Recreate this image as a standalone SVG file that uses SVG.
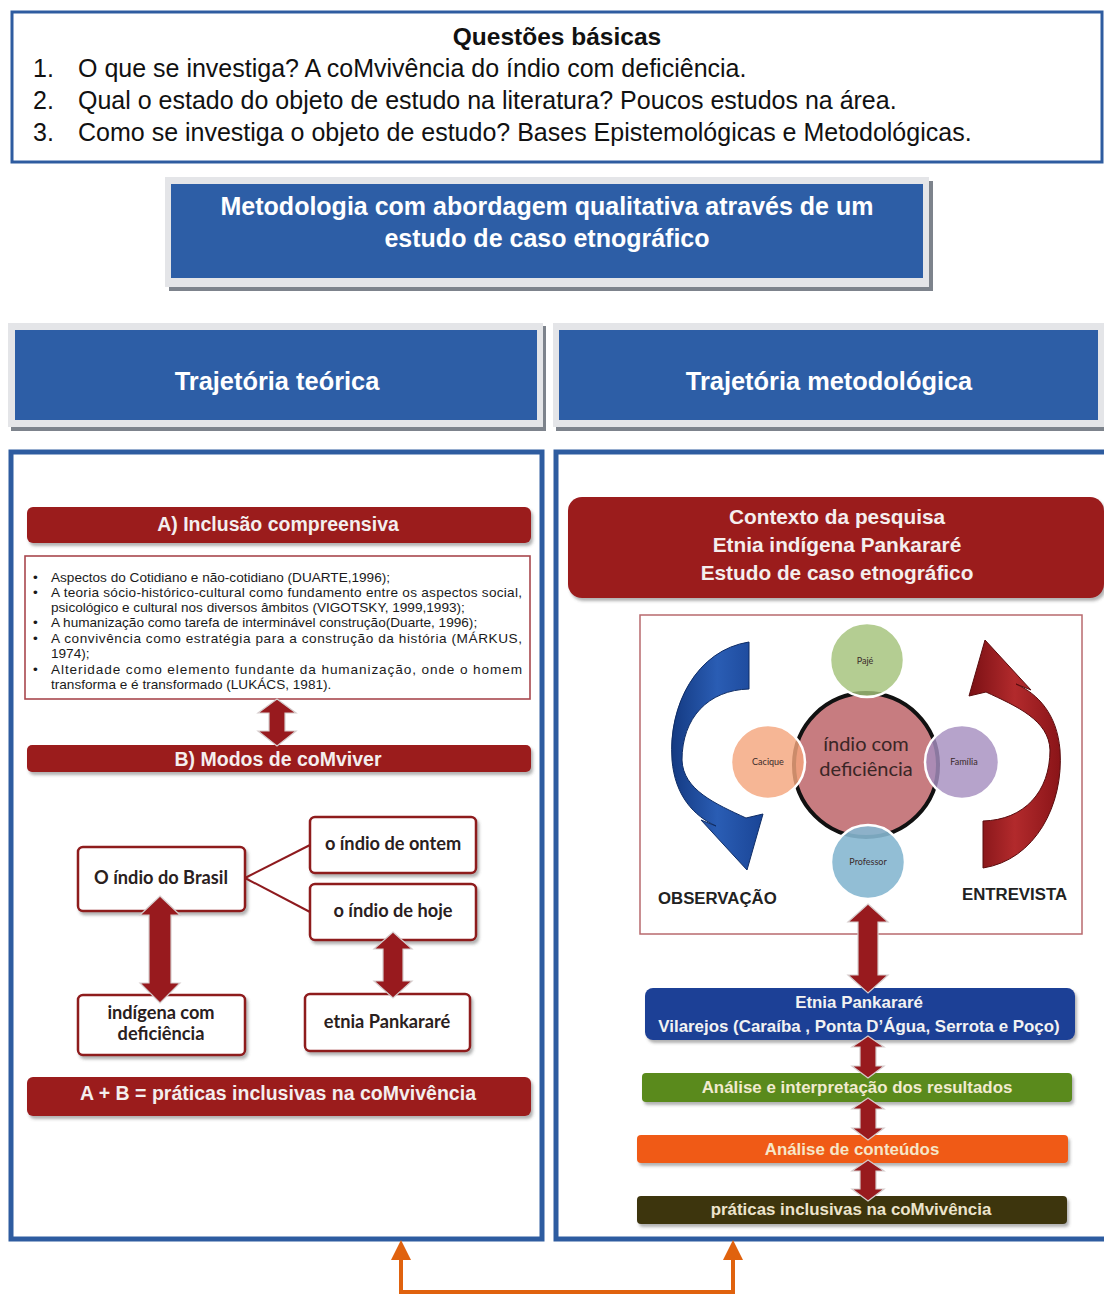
<svg xmlns="http://www.w3.org/2000/svg" width="1104" height="1296" viewBox="0 0 1104 1296">
  <defs>
    <style>
      .sans { font-family: "Liberation Sans", Arial, sans-serif; }
      .cal { font-family: "Lato", "Open Sans", sans-serif; }
      .q { font-size: 25px; fill: #111; }
      .hdr { font-size: 25.4px; font-weight: bold; fill: #fff; }
      .bar { fill: #9b1b1f; }
      .bartxt { font-size: 19.5px; font-weight: bold; fill: #f4eeee; }
      .ctx { font-size: 20.8px; font-weight: bold; fill: #f4eeee; }
      .bul { font-size: 13.6px; fill: #1a1a1a; }
      .rbox { fill: #fff; stroke: #8e1a1e; stroke-width: 2.5; }
      .rtxt { font-size: 18.2px; font-weight: bold; fill: #2a2020; }
      .darr { fill: #981a1e; stroke: #d6cccc; stroke-width: 1.2; }
      .step { font-size: 16.9px; font-weight: bold; }
      .small { font-size: 9px; fill: #3a2a2a; }
    </style>
    <filter id="sh" x="-5%" y="-20%" width="110%" height="150%">
      <feDropShadow dx="2" dy="3" stdDeviation="1.5" flood-color="#555" flood-opacity="0.45"/>
    </filter>
    <linearGradient id="blueArc" x1="0" y1="0" x2="1" y2="0">
      <stop offset="0" stop-color="#143a82"/>
      <stop offset="0.5" stop-color="#2a5db4"/>
      <stop offset="1" stop-color="#1a4596"/>
    </linearGradient>
    <linearGradient id="redArc" x1="0" y1="0" x2="1" y2="0">
      <stop offset="0" stop-color="#8a1418"/>
      <stop offset="0.5" stop-color="#b22a2c"/>
      <stop offset="1" stop-color="#7a1014"/>
    </linearGradient>
    <!-- twisted circular arrow, drawn once and rotated for the right side -->
    <path id="loopArrow" d="M 749 642 C 697 650 668 705 672 760 C 675 796 694 816 716 826 L 701 820 L 747 870 L 763 814 L 746 818 C 716 804 683 790 682 760 C 682 718 708 690 749 689 Z"/>
    <marker id="orangeHead" viewBox="0 0 10 10" refX="5" refY="5" markerWidth="5" markerHeight="5" orient="auto-start-reverse">
      <path d="M0,0 L10,5 L0,10 Z" fill="#e0620e"/>
    </marker>
  </defs>

  <rect width="1104" height="1296" fill="#fff"/>

  <!-- basic questions -->
  <g id="questoes">
    <rect x="12" y="12" width="1090" height="150" fill="#fff" stroke="#2e5ca0" stroke-width="3"/>
    <text class="sans" x="557" y="45" text-anchor="middle" font-size="24.5" font-weight="bold" fill="#111">Questões básicas</text>
    <text class="sans q" x="33" y="77">1.</text>
    <text class="sans q" x="78" y="77">O que se investiga? A coMvivência do índio com deficiência.</text>
    <text class="sans q" x="33" y="109">2.</text>
    <text class="sans q" x="78" y="109">Qual o estado do objeto de estudo na literatura? Poucos estudos na área.</text>
    <text class="sans q" x="33" y="141">3.</text>
    <text class="sans q" x="78" y="141">Como se investiga o objeto de estudo? Bases Epistemológicas e Metodológicas.</text>
  </g>

  <!-- methodology banner -->
  <g id="metodologia">
    <rect x="169" y="181" width="764" height="110" fill="#7d838c"/>
    <rect x="165" y="177" width="764" height="110" fill="#e4e5e8"/>
    <rect x="171" y="184" width="752" height="94" fill="#2d5ea6"/>
    <text class="sans" x="547" y="215" text-anchor="middle" font-size="25" font-weight="bold" fill="#fff">Metodologia com abordagem qualitativa através de um</text>
    <text class="sans" x="547" y="247" text-anchor="middle" font-size="25" font-weight="bold" fill="#fff">estudo de caso etnográfico</text>
  </g>

  <!-- column headers -->
  <g id="traj-teorica">
    <rect x="11" y="326" width="535" height="105" fill="#7d838c"/>
    <rect x="8" y="323" width="535" height="104" fill="#e4e5e8"/>
    <rect x="15" y="330" width="522" height="90" fill="#2d5ea6"/>
    <text class="sans hdr" x="277" y="390" text-anchor="middle">Trajetória teórica</text>
  </g>
  <g id="traj-metodologica">
    <rect x="556" y="326" width="552" height="105" fill="#7d838c"/>
    <rect x="553" y="323" width="552" height="104" fill="#e4e5e8"/>
    <rect x="559" y="330" width="539" height="90" fill="#2d5ea6"/>
    <text class="sans hdr" x="829" y="390" text-anchor="middle">Trajetória metodológica</text>
  </g>

  <!-- column frames -->
  <g id="painel-teorico">
    <rect x="11" y="452" width="531" height="787" fill="#fff" stroke="#2e5ca0" stroke-width="5"/>
  </g>
  <g id="painel-metodologico">
    <rect x="556" y="452" width="560" height="787" fill="#fff" stroke="#2e5ca0" stroke-width="5"/>
  </g>

  <!-- left column -->
  <g id="inclusao">
    <rect class="bar" x="27" y="507" width="504" height="36" rx="6" filter="url(#sh)"/>
    <text class="sans bartxt" x="278" y="531" text-anchor="middle">A) Inclusão compreensiva</text>
  </g>

  <g id="referencias">
    <rect x="25" y="556" width="505" height="143" fill="#fff" stroke="#a8484e" stroke-width="1.6"/>
    <g class="sans bul">
      <text x="33" y="582">•</text>
      <text x="51" y="582">Aspectos do Cotidiano e não-cotidiano (DUARTE,1996);</text>
      <text x="33" y="597">•</text>
      <text x="51" y="597" textLength="471" lengthAdjust="spacing">A teoria sócio-histórico-cultural como fundamento entre os aspectos social,</text>
      <text x="51" y="612">psicológico e cultural nos diversos âmbitos (VIGOTSKY, 1999,1993);</text>
      <text x="33" y="627">•</text>
      <text x="51" y="627">A humanização como tarefa de interminável construção(Duarte, 1996);</text>
      <text x="33" y="643">•</text>
      <text x="51" y="643" textLength="471" lengthAdjust="spacing">A convivência como estratégia para a construção da história (MÁRKUS,</text>
      <text x="51" y="658">1974);</text>
      <text x="33" y="674">•</text>
      <text x="51" y="674" textLength="471" lengthAdjust="spacing">Alteridade como elemento fundante da humanização, onde o homem</text>
      <text x="51" y="689">transforma e é transformado (LUKÁCS, 1981).</text>
    </g>
  </g>

  <g id="modos">
    <rect class="bar" x="27" y="745" width="504" height="27" rx="5" filter="url(#sh)"/>
    <text class="sans bartxt" x="278" y="766" text-anchor="middle">B) Modos de coMviver</text>
  </g>

  <g id="indio-brasil">
    <rect class="rbox" x="78" y="847" width="167" height="64" rx="5" filter="url(#sh)"/>
    <text class="cal rtxt" x="161" y="884" text-anchor="middle">O índio do Brasil</text>
  </g>
  <g id="indio-ontem">
    <rect class="rbox" x="310" y="817" width="166" height="56" rx="5" filter="url(#sh)"/>
    <text class="cal rtxt" x="393" y="850" text-anchor="middle">o índio de ontem</text>
  </g>
  <g id="indio-hoje">
    <rect class="rbox" x="310" y="884" width="166" height="56" rx="5" filter="url(#sh)"/>
    <text class="cal rtxt" x="393" y="917" text-anchor="middle">o índio de hoje</text>
  </g>
  <g id="indigena-deficiencia">
    <rect class="rbox" x="78" y="995" width="167" height="60" rx="5" filter="url(#sh)"/>
    <text class="cal rtxt" x="161" y="1019" text-anchor="middle">indígena com</text>
    <text class="cal rtxt" x="161" y="1040" text-anchor="middle">deficiência</text>
  </g>
  <g id="etnia-pankarare">
    <rect class="rbox" x="305" y="994" width="165" height="57" rx="5" filter="url(#sh)"/>
    <text class="cal rtxt" x="387" y="1028" text-anchor="middle">etnia Pankararé</text>
  </g>

  <g id="soma">
    <rect class="bar" x="27" y="1077" width="504" height="39" rx="6" filter="url(#sh)"/>
    <text class="sans bartxt" x="278" y="1100" text-anchor="middle">A + B = práticas inclusivas na coMvivência</text>
  </g>

  <!-- right column -->
  <g id="contexto">
    <rect class="bar" x="568" y="497" width="536" height="101" rx="14" filter="url(#sh)"/>
    <text class="sans ctx" x="837" y="524" text-anchor="middle">Contexto da pesquisa</text>
    <text class="sans ctx" x="837" y="552" text-anchor="middle">Etnia indígena Pankararé</text>
    <text class="sans ctx" x="837" y="580" text-anchor="middle">Estudo de caso etnográfico</text>
  </g>

  <g id="atores">
    <rect x="640" y="615" width="442" height="319" fill="#fff" stroke="#b86a6e" stroke-width="1.5"/>
    <use href="#loopArrow" fill="url(#blueArc)" stroke="#0f2d66" stroke-width="1"/>
    <use href="#loopArrow" fill="url(#redArc)" stroke="#5a0c0e" stroke-width="1" transform="rotate(180 866 755)"/>
    <circle cx="866" cy="765" r="72" fill="#c77c80" stroke="#111" stroke-width="4"/>
    <circle cx="867" cy="660" r="37" fill="#a3c27a" fill-opacity="0.82" stroke="#fff" stroke-width="2.5"/>
    <circle cx="768" cy="762" r="37" fill="#f4a67e" fill-opacity="0.82" stroke="#fff" stroke-width="2.5"/>
    <circle cx="962" cy="762" r="37" fill="#a68fc0" fill-opacity="0.82" stroke="#fff" stroke-width="2.5"/>
    <circle cx="868" cy="862" r="37" fill="#86b7d0" fill-opacity="0.9" stroke="#fff" stroke-width="2.5"/>
    <text class="cal" x="866" y="751" text-anchor="middle" font-size="20" fill="#3a2626">índio com</text>
    <text class="cal" x="866" y="776" text-anchor="middle" font-size="20" fill="#3a2626">deficiência</text>
    <text class="cal small" x="865" y="664" text-anchor="middle">Pajé</text>
    <text class="cal small" x="768" y="765" text-anchor="middle">Cacique</text>
    <text class="cal small" x="964" y="765" text-anchor="middle">Família</text>
    <text class="cal small" x="868" y="865" text-anchor="middle" fill="#2a3a4a">Professor</text>
    <text class="sans" x="658" y="904" font-size="16.8" font-weight="bold" fill="#222">OBSERVAÇÃO</text>
    <text class="sans" x="962" y="900" font-size="16.8" font-weight="bold" fill="#222">ENTREVISTA</text>
  </g>

  <g id="vilarejos">
    <rect x="645" y="988" width="430" height="52" rx="8" fill="#1c3f96" filter="url(#sh)"/>
    <text class="sans step" x="859" y="1008" text-anchor="middle" fill="#f2f2f2">Etnia Pankararé</text>
    <text class="sans step" x="859" y="1032" text-anchor="middle" fill="#f2f2f2">Vilarejos (Caraíba , Ponta D’Água, Serrota e Poço)</text>
  </g>
  <g id="analise-resultados">
    <rect x="642" y="1073" width="430" height="29" rx="4" fill="#5a8a1a" filter="url(#sh)"/>
    <text class="sans step" x="857" y="1093" text-anchor="middle" fill="#f1ead0">Análise e interpretação dos resultados</text>
  </g>
  <g id="analise-conteudos">
    <rect x="637" y="1135" width="431" height="28" rx="4" fill="#f05a14" filter="url(#sh)"/>
    <text class="sans step" x="852" y="1155" text-anchor="middle" fill="#f6e6c8">Análise de conteúdos</text>
  </g>
  <g id="praticas">
    <rect x="637" y="1196" width="430" height="28" rx="4" fill="#3d3410" filter="url(#sh)"/>
    <text class="sans step" x="851" y="1215" text-anchor="middle" fill="#ece4cc">práticas inclusivas na coMvivência</text>
  </g>

  <!-- connectors -->
  <g id="connectors">
    <line x1="245" y1="878" x2="310" y2="845" stroke="#8e1a1e" stroke-width="2"/>
    <line x1="245" y1="878" x2="310" y2="912" stroke="#8e1a1e" stroke-width="2"/>
    <!-- double arrows: tip, head, shaft, head, tip -->
    <polygon class="darr" points="277,699 296,713 285,713 285,731 296,731 277,746 258,731 269,731 269,713 258,713"/>
    <polygon class="darr" points="160,896 180,915 171,915 171,983 180,983 160,1003 140,983 149,983 149,915 140,915"/>
    <polygon class="darr" points="393,932 412,949 403,949 403,981 412,981 393,998 374,981 383,981 383,949 374,949"/>
    <polygon class="darr" points="868,904 888,922 878,922 878,975 888,975 868,993 848,975 858,975 858,922 848,922"/>
    <polygon class="darr" points="868,1036 884,1047 876,1047 876,1066 884,1066 868,1078 852,1066 860,1066 860,1047 852,1047"/>
    <polygon class="darr" points="868,1098 884,1109 876,1109 876,1128 884,1128 868,1140 852,1128 860,1128 860,1109 852,1109"/>
    <polygon class="darr" points="868,1160 884,1171 876,1171 876,1189 884,1189 868,1201 852,1189 860,1189 860,1171 852,1171"/>
    <!-- link between the two columns -->
    <polyline points="401,1250 401,1292 733,1292 733,1250" fill="none" stroke="#e0620e" stroke-width="4" marker-start="url(#orangeHead)" marker-end="url(#orangeHead)"/>
  </g>
</svg>
